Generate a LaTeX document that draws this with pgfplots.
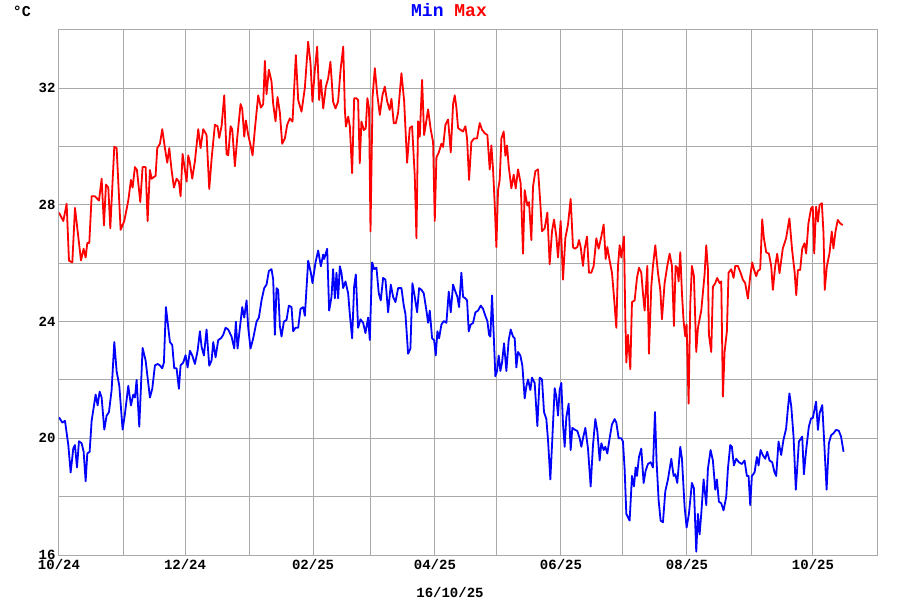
\documentclass[border=0pt]{standalone}
\usepackage{fontspec}
\setmainfont{Liberation Mono}
\usepackage{pgfplots}
\pgfplotsset{compat=1.18}
\definecolor{gridgray}{RGB}{170,170,170}

\begin{document}
\begin{tikzpicture}[x=1pt,y=1pt]
% page = 900 x 600, plot box at (59..877, 30..555) in image pixels
\path[use as bounding box] (-59,-45) rectangle (841,555);
\begin{axis}[
  at={(0,0)}, anchor=south west,
  scale only axis, width=818pt, height=525pt,
  xmin=0, xmax=396, ymin=16, ymax=34,
  % days since 2024-10-01, one grid line per month
  xtick={0,31,61,92,123,151,182,212,243,273,304,335,365,396},
  xticklabels={10/24,,12/24,,02/25,,04/25,,06/25,,08/25,,10/25,},
  ytick={16,18,20,22,24,26,28,30,32,34},
  yticklabels={16,,20,,24,,28,,32,},
  grid=major,
  grid style={gridgray, line width=1pt},
  axis line style={gridgray, line width=1pt},
  major tick length=0pt,
  tick label style={font=\fontsize{14}{14}\selectfont\bfseries, text=black},
  xticklabel style={yshift=-1pt},
  clip=true,
]
% daily maximum
\addplot[red, line width=1.8pt, line join=round] table {
d t
0 27.74
2.09 27.45
3.7 28.04
4.83 26.09
6.45 26.03
7.74 27.9
9.03 27.1
10.64 26.1
11.93 26.5
12.9 26.2
13.7 26.7
14.67 26.7
15.8 28.3
17.41 28.3
19.35 28.15
20.64 28.9
21.77 27.3
22.73 28.7
23.86 28.6
24.83 27.2
26.77 30.0
27.9 29.95
29.83 27.15
31.6 27.45
33.54 28.15
34.83 28.86
35.64 28.6
36.76 29.3
37.73 29.2
39.35 28.1
40.47 29.3
41.93 29.3
42.89 27.45
44.02 29.2
44.83 28.9
46.76 29.0
47.57 29.95
48.86 30.1
49.99 30.6
51.28 29.95
52.41 29.45
53.38 29.95
54.5 29.2
55.63 28.6
56.92 28.9
58.05 28.8
58.86 28.3
59.83 29.75
61.77 28.8
62.57 29.7
63.38 29.45
64.51 28.9
65.8 29.5
67.41 30.6
68.54 29.95
69.83 30.6
71.44 30.4
72.73 28.55
73.86 29.57
75.47 30.75
76.76 30.7
77.57 30.3
78.7 30.7
79.99 31.76
81.12 29.75
81.93 29.7
83.05 30.7
83.86 30.6
85.15 29.33
86.28 30.3
87.89 31.46
88.7 31.3
89.67 30.34
90.47 30.9
91.6 30.4
92.73 30.05
93.7 29.7
94.83 30.6
96.44 31.76
97.73 31.34
98.86 31.46
99.66 32.94
100.47 31.8
101.6 32.64
102.89 32.23
103.7 31.46
104.83 30.87
105.79 31.7
106.92 31.17
108.05 30.1
109.34 30.28
110.47 30.75
111.76 30.97
113.05 30.86
114.66 33.14
115.79 31.6
117.4 31.2
119.0 32.0
120.6 33.6
121.76 32.86
122.7 31.54
123.86 32.63
124.98 33.43
125.95 31.6
126.76 32.29
127.9 31.31
129.2 32.06
130.3 32.34
131.4 32.91
132.7 31.54
133.85 31.31
135.1 31.54
136.3 32.63
137.6 33.43
138.4 31.26
138.9 30.69
140.0 31.03
140.8 30.69
141.9 29.09
142.9 31.66
144.0 31.66
144.8 31.6
145.6 29.43
146.4 30.86
147.6 30.57
148.5 30.63
149.3 31.66
150.1 31.31
150.8 27.09
151.8 31.71
152.9 32.69
154.0 31.83
155.3 31.09
156.6 31.77
157.7 32.06
158.9 31.54
160.1 31.26
160.94 31.64
162.07 30.8
163.04 30.8
164.17 31.17
165.78 32.52
167.07 31.58
168.52 29.45
169.81 30.64
170.94 30.7
172.23 28.98
173.04 26.86
173.84 30.87
174.65 30.34
175.78 32.29
176.75 30.4
177.55 30.75
178.68 31.28
179.97 30.58
181.1 30.16
181.91 27.45
182.71 29.63
183.84 29.8
185.13 30.1
185.94 29.99
187.07 30.75
188.36 30.93
189.65 29.8
190.77 31.46
191.58 31.76
192.38 31.34
193.19 30.64
194.32 30.58
195.61 30.52
196.74 30.7
197.55 30.28
198.51 28.86
199.64 30.16
200.93 30.28
202.38 30.28
203.67 30.81
204.8 30.58
206.09 30.46
207.38 30.4
208.51 29.22
209.32 30.04
210.12 29.22
210.93 28.04
211.74 26.56
212.54 28.51
213.35 28.86
214.16 30.28
215.28 30.52
216.09 29.69
216.9 30.04
217.7 29.33
219.0 28.57
220.12 29.04
221.09 28.57
222.22 29.22
223.51 28.74
224.64 26.33
225.44 28.51
226.73 27.98
227.54 28.1
228.67 26.8
229.48 28.63
230.61 29.16
231.9 29.22
233.03 28.04
233.83 27.1
235.12 27.2
236.41 27.74
237.54 25.97
238.67 27.1
239.64 27.5
240.76 26.92
241.57 26.2
242.86 27.45
243.99 25.44
245.12 26.86
246.41 27.33
247.7 28.21
248.83 26.56
249.64 26.5
250.93 26.56
251.74 26.8
252.54 26.56
253.67 25.91
254.48 26.5
255.61 26.92
256.57 25.68
257.7 25.68
258.83 25.91
260.12 26.86
261.25 26.5
262.54 26.92
263.67 27.33
264.64 26.15
265.44 26.56
266.57 26.09
267.7 25.68
268.67 24.85
269.8 23.79
270.61 25.91
271.41 26.62
272.22 26.2
273.51 26.92
274.15 24.14
274.64 22.6
275.44 23.55
276.57 22.37
277.38 24.67
278.67 24.73
279.8 25.5
280.76 25.85
281.89 25.68
282.7 24.97
283.51 24.38
284.8 25.91
285.6 22.9
286.73 25.2
287.54 25.91
288.67 26.62
289.96 25.68
291.09 25.09
291.89 24.08
293.18 25.32
294.47 25.91
295.6 26.33
296.73 25.91
297.7 23.85
298.5 25.91
299.31 25.85
299.96 25.38
300.76 26.38
301.57 24.97
302.37 24.02
303.18 23.49
303.83 23.9
304.79 21.19
305.6 24.61
306.4 25.91
307.37 25.56
308.5 22.96
309.31 23.79
310.92 24.38
312.53 25.62
313.34 26.62
314.14 25.8
314.63 23.55
315.76 22.96
316.56 25.2
317.69 25.32
318.66 25.5
319.79 25.32
320.6 25.38
321.4 21.43
322.21 22.96
323.33 23.67
324.14 25.68
325.43 25.8
326.56 25.5
327.37 25.91
328.66 25.91
329.95 25.68
331.08 25.44
332.2 25.32
333.5 24.79
334.62 25.56
335.59 26.03
336.4 25.8
337.53 25.56
338.33 25.74
339.46 25.8
340.43 27.51
341.24 26.86
342.36 26.38
343.66 26.33
344.78 25.91
345.59 25.09
346.72 25.91
347.69 26.33
348.8 25.66
350.4 26.51
352.0 26.86
353.6 27.54
354.9 26.46
356.1 25.71
356.9 24.91
357.7 25.77
358.8 25.77
359.8 26.51
360.9 26.69
361.7 26.34
362.8 27.37
364.1 27.89
364.9 27.94
365.6 26.34
366.5 27.94
367.4 27.43
368.2 28.0
369.3 28.06
370.1 27.03
370.7 25.09
371.7 25.89
373.0 26.34
374.1 27.09
374.9 26.51
375.9 27.09
377.0 27.49
378.2 27.37
379.4 27.31
};
% daily minimum
\addplot[blue, line width=1.8pt, line join=round] table {
d t
0 20.72
1.61 20.54
2.9 20.6
4.51 19.77
5.64 18.83
6.93 19.66
7.74 19.77
8.7 19.0
9.67 19.9
10.96 19.83
11.93 19.54
12.9 18.53
13.7 19.48
14.83 19.54
15.8 20.6
17.09 21.2
17.73 21.5
18.7 21.13
19.67 21.6
20.64 21.4
21.93 20.3
23.06 20.78
24.19 20.9
25.48 21.66
26.77 23.3
27.9 22.3
29.19 21.8
30.8 20.3
31.93 20.84
33.54 21.8
34.83 21.13
35.96 21.5
36.76 21.4
37.57 22.0
38.86 20.4
40.47 23.1
41.93 22.67
44.02 21.4
45.15 21.7
46.44 22.5
47.73 22.55
48.86 22.5
49.99 22.4
50.79 22.6
51.76 24.5
53.7 23.3
54.83 23.2
55.79 22.4
56.92 22.4
58.05 21.7
58.86 22.5
60.15 22.6
61.28 22.85
62.25 22.43
63.38 23.0
64.51 22.84
65.8 22.55
67.09 23.0
68.22 23.67
69.02 23.14
70.15 22.84
71.44 23.73
72.73 22.49
73.86 22.67
74.67 23.3
75.8 22.78
77.09 23.37
78.38 23.43
79.51 23.55
80.63 23.79
81.93 23.73
83.54 23.49
84.83 23.08
85.63 24.0
86.44 23.08
87.57 23.79
88.7 24.5
89.67 24.14
90.8 24.73
91.6 23.79
92.73 23.08
94.02 23.43
95.63 24.0
96.76 24.14
98.05 24.73
99.34 25.15
100.47 25.27
101.6 25.74
102.89 25.8
103.7 25.44
104.5 23.55
105.31 25.15
106.12 25.09
106.92 23.85
107.73 23.49
108.86 24.0
110.15 24.06
111.28 24.55
112.57 24.5
113.37 23.67
114.5 23.79
115.79 23.79
116.92 24.44
118.21 24.5
119.02 24.2
120.63 26.09
121.92 25.68
122.72 25.32
124.18 26.03
125.47 26.44
126.76 25.9
127.89 26.3
128.37 26.15
129.82 26.5
130.78 24.38
131.91 24.85
132.72 25.8
133.53 24.8
134.33 25.68
135.14 24.8
135.95 25.9
136.75 25.68
137.56 25.15
138.69 25.38
139.98 24.97
140.78 24.26
141.91 23.43
142.88 25.2
143.69 25.62
144.8 23.79
145.94 24.08
147.23 23.96
148.36 23.61
149.65 24.14
150.46 23.37
151.59 26.03
152.56 25.8
153.68 25.85
154.81 24.97
155.78 24.73
156.91 25.5
158.04 25.44
159.33 24.32
160.62 25.27
161.75 24.85
162.88 24.67
164.17 25.15
165.78 25.15
166.91 24.55
167.72 24.26
169.0 22.9
170.13 23.08
171.1 25.32
172.23 24.85
173.36 24.32
174.33 25.15
175.46 25.09
176.58 24.97
177.87 24.38
178.68 23.96
179.49 24.38
180.62 23.43
181.58 23.37
182.39 22.84
183.2 23.67
184.0 23.43
185.13 23.9
186.26 24.02
187.55 23.96
188.68 25.03
189.65 24.32
190.77 25.27
191.9 25.03
192.87 24.85
193.67 24.5
194.8 25.68
195.61 24.85
196.74 24.8
197.55 24.73
198.35 23.67
199.32 23.9
200.45 23.96
201.58 24.32
202.87 24.38
204.16 24.55
205.29 24.44
206.41 24.2
207.38 24.02
208.19 23.55
208.83 23.49
209.64 24.9
210.45 23.55
211.25 22.13
212.06 22.31
212.87 22.84
213.67 22.31
214.48 22.6
215.45 23.26
216.57 22.31
217.7 23.37
218.67 23.73
219.8 23.49
220.61 23.43
221.41 22.43
222.22 22.96
223.35 22.84
224.32 22.49
225.44 21.37
226.25 21.78
227.06 22.02
228.19 21.66
228.99 22.08
230.28 21.9
231.57 20.42
232.7 22.08
233.83 22.02
234.8 20.9
235.93 20.66
236.73 19.95
237.86 18.59
238.83 20.0
239.96 21.72
240.76 21.43
241.57 20.78
242.38 21.66
243.18 21.9
243.99 20.48
244.8 19.71
245.6 20.72
246.73 21.19
247.7 19.6
248.51 20.36
249.64 20.3
250.93 20.25
252.06 20.0
252.87 19.71
253.67 20.0
254.8 20.36
256.09 19.65
257.38 18.35
258.51 19.77
259.64 20.66
260.61 20.25
261.74 19.24
262.54 19.83
263.67 19.6
264.48 19.71
265.44 19.48
266.57 20.0
267.7 20.48
268.99 20.66
269.8 20.54
270.93 20.0
272.22 20.0
273.02 19.89
273.83 18.94
274.64 17.41
276.25 17.18
277.38 18.71
278.35 18.35
279.15 19.0
279.8 18.71
280.76 19.36
281.89 19.65
283.02 18.47
283.99 18.89
285.12 19.12
286.41 19.18
287.54 19.0
288.51 20.9
289.31 19.18
290.28 17.88
291.25 17.18
292.38 17.12
293.5 18.18
294.8 18.59
296.41 19.3
297.54 18.71
298.34 18.77
299.31 18.47
300.76 19.71
301.57 19.3
302.86 17.65
303.83 16.94
304.95 17.41
306.4 18.47
307.37 18.29
308.5 16.11
309.31 17.41
310.12 16.71
310.92 17.41
312.05 18.59
313.34 17.71
314.14 18.95
315.43 19.6
316.56 19.24
317.69 18.24
318.5 18.59
319.46 17.83
320.6 17.77
321.72 17.53
323.01 18.0
323.82 18.95
324.95 19.77
325.75 19.71
326.72 19.07
327.85 19.3
329.14 19.18
330.59 19.12
331.88 19.24
333.01 18.71
333.82 18.71
334.62 17.71
335.43 18.71
336.72 18.83
337.85 19.36
338.66 19.07
339.62 19.6
340.75 19.42
341.88 19.3
342.85 19.54
343.98 19.24
345.27 19.18
346.4 18.83
347.2 18.71
348.33 19.89
349.6 19.43
350.7 19.94
352.0 20.34
352.8 20.97
353.6 21.54
354.5 21.09
355.6 20.06
356.7 18.24
358.2 19.89
359.8 20.06
360.6 18.77
361.7 19.6
363.0 20.4
364.1 20.69
364.9 20.69
365.7 20.97
366.5 21.26
367.4 20.29
368.2 20.86
369.5 21.14
370.3 20.06
371.6 18.24
372.7 19.83
373.8 20.11
374.9 20.17
376.2 20.29
377.5 20.26
378.6 20.06
379.8 19.54
};
\end{axis}
\node[font=\fontsize{15}{15}\selectfont\bfseries] at (-37,544) {°C};
\node[font=\fontsize{18}{18}\selectfont\bfseries] at (390,544.5)
  {\textcolor{blue}{Min} \textcolor{red}{Max}};
\node[font=\fontsize{14}{14}\selectfont\bfseries] at (391,-37.5) {16/10/25};
\end{tikzpicture}
\end{document}
